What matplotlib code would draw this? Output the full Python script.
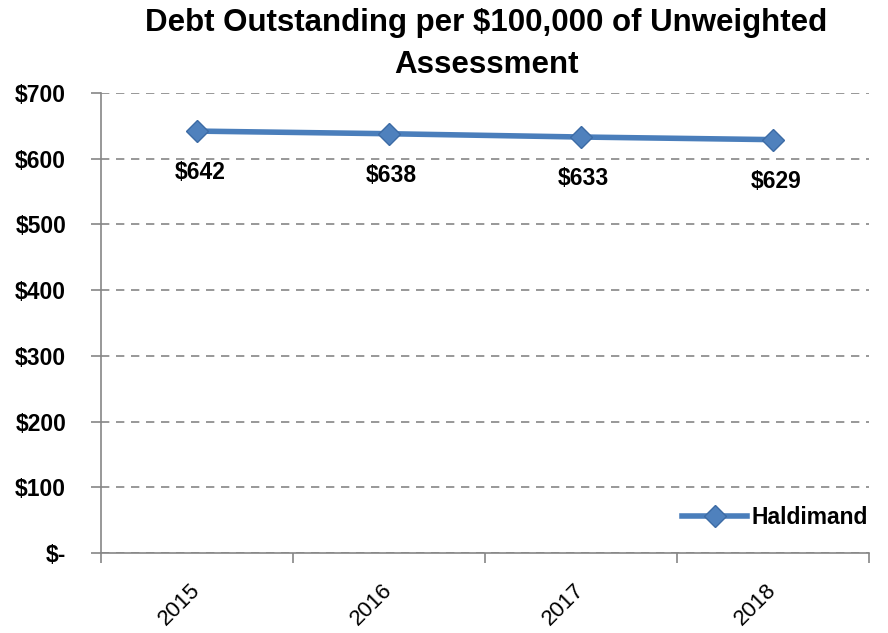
import matplotlib.pyplot as plt
import numpy as np

years = ["2015", "2016", "2017", "2018"]
debt = [642, 638, 633, 629]
y_ticks = [0, 100, 200, 300, 400, 500, 600, 700]
y_labels = ["$-", "$100", "$200", "$300", "$400", "$500", "$600", "$700"]

plt.rcParams['font.family'] = ['Liberation Sans', 'DejaVu Sans']

fig = plt.figure(figsize=(8.88, 6.33), dpi=100)
ax = fig.add_axes([0.1137, 0.1264, 0.8649, 0.7267])

x = np.arange(len(years))
ax.plot(x, debt, color='#4A7EBB', lw=4, marker='D', ms=11,
        markerfacecolor='#4F81BD', markeredgecolor='#3C6BA5', label='Haldimand', zorder=3)

for xi, v in zip(x, debt):
    ax.annotate(f"${v}", (xi, v), xytext=(2, -30), textcoords='offset points',
                ha='center', va='center', fontsize=16.5, fontweight='bold')

ax.set_xlim(-0.5, len(years) - 0.5)
ax.set_ylim(0, 700)
ax.set_yticks(y_ticks)
ax.set_yticklabels(y_labels, fontsize=16.5, fontweight='bold')
ax.yaxis.grid(True, ls=(0, (5, 4)), color='#868686', lw=1.2)
ax.set_axisbelow(True)

# category labels in the middle, tick marks at the boundaries
ax.set_xticks(x + 0.04)
ax.set_xticklabels(years, rotation=45, fontsize=16, ha='right', va='top')
ax.tick_params(axis='x', length=0, pad=19)
ax.set_xticks(np.arange(-0.5, len(years)), minor=True)
ax.tick_params(axis='x', which='minor', length=7, color='#868686', width=1.2)
ax.tick_params(axis='y', length=7, color='#868686', width=1.2, pad=18)

for side in ['top', 'right']:
    ax.spines[side].set_visible(False)
for side in ['left', 'bottom']:
    ax.spines[side].set_color('#868686')
    ax.spines[side].set_linewidth(1.2)

ax.legend(loc='lower right', frameon=False, handlelength=2.8,
          handletextpad=0.2, bbox_to_anchor=(1.025, 0.008),
          prop={'weight': 'bold', 'size': 16.5})

fig.suptitle("Debt Outstanding per $100,000 of Unweighted\nAssessment",
             x=0.548, y=0.988, fontsize=22.5, fontweight='bold', linespacing=1.55)

fig.savefig('out.png', dpi=100)
